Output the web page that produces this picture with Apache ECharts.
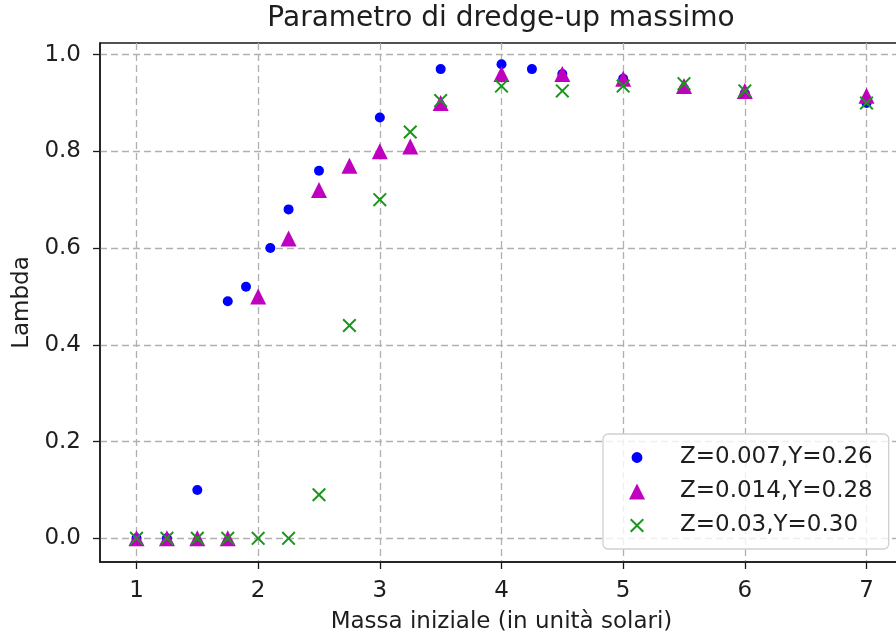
<!DOCTYPE html>
<html>
<head>
<meta charset="utf-8">
<script src="https://cdn.jsdelivr.net/npm/echarts@6/dist/echarts.min.js"></script>
<style>
  html, body { margin: 0; padding: 0; background: #fff; }
  #chart { width: 896px; height: 638px; }
</style>
</head>
<body>
<div id="chart"></div>
<script>
// Initial mass (solar units) and maximum dredge-up parameter for each composition
const massZ007 = [1, 1.25, 1.5, 1.75, 1.9, 2.1, 2.25, 2.5, 3, 3.5, 4, 4.25, 4.5, 5, 5.5, 6, 7];
const lambdaZ007 = [0, 0, 0.1, 0.49, 0.52, 0.6, 0.68, 0.76, 0.87, 0.97, 0.98, 0.97, 0.96, 0.95, 0.93, 0.92, 0.9];

const massZ014 = [1, 1.25, 1.5, 1.75, 2, 2.25, 2.5, 2.75, 3, 3.25, 3.5, 4, 4.5, 5, 5.5, 6, 7];
const lambdaZ014 = [0, 0, 0, 0, 0.5, 0.62, 0.72, 0.77, 0.8, 0.81, 0.9, 0.96, 0.96, 0.95, 0.935, 0.925, 0.915];

const massZ03 = [1, 1.25, 1.5, 1.75, 2, 2.25, 2.5, 2.75, 3, 3.25, 3.5, 4, 4.5, 5, 5.5, 6, 7];
const lambdaZ03 = [0, 0, 0, 0, 0, 0, 0.09, 0.44, 0.7, 0.84, 0.905, 0.935, 0.925, 0.935, 0.94, 0.925, 0.9];

const seriesNames = ['Z=0.007,Y=0.26', 'Z=0.014,Y=0.28', 'Z=0.03,Y=0.30'];
const xTicks = [1, 2, 3, 4, 5, 6, 7];
const yTicks = [0, 0.2, 0.4, 0.6, 0.8, 1.0];

const FONT = 'DejaVu Sans';
const TEXT = '#1e1e1e';
const GRID = '#b0b0b0';
const SPINE = '#1a1a1a';

// thin diagonal cross drawn as a filled outline
const CROSS = 'path://M0,1 L1,0 L5,4 L9,0 L10,1 L6,5 L10,9 L9,10 L5,6 L1,10 L0,9 L4,5 Z';
// legend icons: leading moveTo points widen the bounding box so the glyph sits smaller in its slot
const LEGEND_DOT = 'path://M0,0 M20,20 M3.2,10 A6.8,6.8 0 1 1 16.8,10 A6.8,6.8 0 1 1 3.2,10 Z';
const LEGEND_CROSS = 'path://M-0.7,-0.7 M10.7,10.7 M0,1 L1,0 L5,4 L9,0 L10,1 L6,5 L10,9 L9,10 L5,6 L1,10 L0,9 L4,5 Z';

const zip = (xs, ys) => xs.map((x, i) => [x, ys[i]]);

const chart = echarts.init(document.getElementById('chart'), null, { renderer: 'canvas' });

const gridLine = { show: true, lineStyle: { color: GRID, type: [7, 4], width: 1.3 } };

chart.setOption({
  animation: false,
  backgroundColor: '#fff',
  title: {
    text: 'Parametro di dredge-up massimo',
    left: 501,
    textAlign: 'center',
    top: 5,
    padding: 0,
    textStyle: { fontFamily: FONT, fontSize: 28, fontWeight: 'normal', color: TEXT }
  },
  // the frame continues past the right edge of the canvas
  grid: {
    left: 100, top: 43, width: 803, height: 519, containLabel: false,
    outerBoundsMode: 'none',
    show: true, borderColor: SPINE, borderWidth: 1.5, backgroundColor: 'transparent'
  },
  xAxis: {
    type: 'value',
    min: 0.7,
    max: 7.3,
    name: 'Massa iniziale (in unità solari)',
    nameLocation: 'middle',
    nameGap: 49,
    nameTextStyle: { fontFamily: FONT, fontSize: 23, color: TEXT },
    axisLine: { show: true, onZero: false, lineStyle: { color: SPINE, width: 1.5 } },
    axisTick: { show: true, length: 7, customValues: xTicks, lineStyle: { color: SPINE, width: 1.3 } },
    axisLabel: { customValues: xTicks, margin: 18, fontFamily: FONT, fontSize: 23, color: TEXT },
    splitLine: gridLine
  },
  yAxis: {
    type: 'value',
    min: -0.049,
    max: 1.024,
    name: 'Lambda',
    nameLocation: 'middle',
    nameGap: 66,
    nameTextStyle: { fontFamily: FONT, fontSize: 23, color: TEXT },
    axisLine: { show: true, onZero: false, lineStyle: { color: SPINE, width: 1.5 } },
    axisTick: { show: true, length: 7, customValues: yTicks, lineStyle: { color: SPINE, width: 1.3 } },
    axisLabel: {
      customValues: yTicks,
      margin: 19,
      fontFamily: FONT, fontSize: 23, color: TEXT,
      formatter: v => v.toFixed(1)
    },
    splitLine: gridLine
  },
  legend: {
    orient: 'vertical',
    left: 603,
    top: 434,
    padding: [12, 16, 12, 26],
    itemWidth: 16,
    itemHeight: 16,
    itemGap: 11,
    backgroundColor: 'rgba(255,255,255,0.8)',
    borderColor: '#d0d0d0',
    borderWidth: 1.3,
    borderRadius: 5,
    textStyle: { fontFamily: FONT, fontSize: 23, color: TEXT, padding: [0, 0, 0, 30] },
    data: [
      { name: seriesNames[0], icon: LEGEND_DOT },
      { name: seriesNames[1], icon: 'triangle' },
      { name: seriesNames[2], icon: LEGEND_CROSS }
    ]
  },
  series: [
    {
      name: seriesNames[0],
      type: 'scatter',
      symbol: 'circle',
      symbolSize: 10,
      itemStyle: { color: '#0000ff', opacity: 1 },
      data: zip(massZ007, lambdaZ007),
      z: 2
    },
    {
      name: seriesNames[1],
      type: 'scatter',
      symbol: 'triangle',
      symbolSize: 16,
      itemStyle: { color: '#bf00bf', opacity: 1 },
      data: zip(massZ014, lambdaZ014),
      z: 3
    },
    {
      name: seriesNames[2],
      type: 'scatter',
      symbol: CROSS,
      symbolSize: 14,
      itemStyle: { color: '#1a961a', opacity: 1 },
      data: zip(massZ03, lambdaZ03),
      z: 4
    }
  ]
});
</script>
</body>
</html>
